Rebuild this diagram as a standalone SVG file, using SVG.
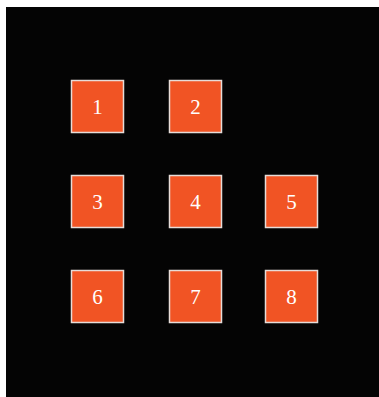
<svg xmlns="http://www.w3.org/2000/svg" width="379" height="397" viewBox="0 0 379 397">
<style>
.box{fill:#F15424;stroke:#E6DCD8;stroke-width:1.5}
.lbl{font-family:"Liberation Serif",serif;font-size:21px;fill:#FFFFFF;text-anchor:middle;dominant-baseline:central}
</style>
<rect width="379" height="397" fill="#FFFFFF"/>
<rect x="6" y="7" width="373" height="390" fill="#040404"/>
<g id="connectors"></g>
<g id="n1"><rect class="box" x="71.5" y="80.5" width="52" height="52"/><text class="lbl" x="97.5" y="106.5">1</text></g>
<g id="n2"><rect class="box" x="169.5" y="80.5" width="52" height="52"/><text class="lbl" x="195.5" y="106.5">2</text></g>
<g id="n3"><rect class="box" x="71.5" y="175.5" width="52" height="52"/><text class="lbl" x="97.5" y="201.5">3</text></g>
<g id="n4"><rect class="box" x="169.5" y="175.5" width="52" height="52"/><text class="lbl" x="195.5" y="201.5">4</text></g>
<g id="n5"><rect class="box" x="265.5" y="175.5" width="52" height="52"/><text class="lbl" x="291.5" y="201.5">5</text></g>
<g id="n6"><rect class="box" x="71.5" y="270.5" width="52" height="52"/><text class="lbl" x="97.5" y="296.5">6</text></g>
<g id="n7"><rect class="box" x="169.5" y="270.5" width="52" height="52"/><text class="lbl" x="195.5" y="296.5">7</text></g>
<g id="n8"><rect class="box" x="265.5" y="270.5" width="52" height="52"/><text class="lbl" x="291.5" y="296.5">8</text></g>
</svg>
